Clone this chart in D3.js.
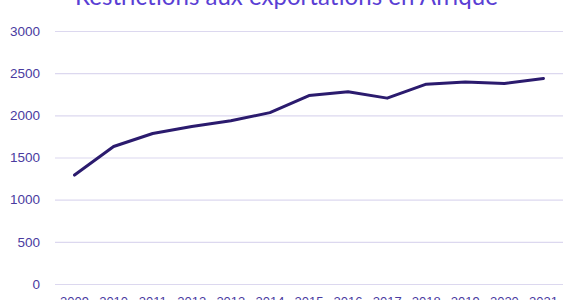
<!DOCTYPE html>
<html lang="fr">
<head>
	<meta charset="UTF-8" />
	<script src="https://d3js.org/d3.v7.min.js"></script>
	<style type="text/css">
		body { margin: 0; background: #ffffff; }
		svg { display: block; font-family: "Century Gothic", "URW Gothic", Lato, sans-serif; }
	</style>
	<title>Restrictions aux exportations en Afrique</title>
</head>
<body>
<script type="text/javascript">
	// Data
	var years = ["2009", "2010", "2011", "2012", "2013", "2014", "2015", "2016", "2017", "2018", "2019", "2020", "2021"];
	var restrictions = [1292, 1630, 1785, 1868, 1935, 2032, 2235, 2280, 2204, 2370, 2395, 2378, 2438];
	var yTicks = [0, 500, 1000, 1500, 2000, 2500, 3000];
	var title = "Restrictions aux exportations en Afrique";

	var W = 570, H = 300;
	var margin = {top: 31, right: 7, bottom: 16, left: 55},
	    w = W - margin.left - margin.right,
	    h = H - margin.top - margin.bottom;

	var svg = d3.select("body").append("svg")
	    .attr("width", W)
	    .attr("height", H);

	var g = svg.append("g")
	    .attr("transform", "translate(" + margin.left + "," + margin.top + ")");

	// Scales
	var xScale = d3.scaleBand()
	    .domain(years)
	    .range([0, w])
	    .padding(0);

	var yScale = d3.scaleLinear()
	    .domain([0, 3000])
	    .range([h, 0]);

	// Gridlines + y labels
	var yAxis = g.append("g")
	    .attr("class", "y_axis")
	    .call(d3.axisLeft(yScale).tickValues(yTicks).tickFormat(d3.format("d")).tickSize(-w).tickPadding(15));
	yAxis.select(".domain").remove();
	yAxis.selectAll(".tick line")
	    .attr("stroke", "#dcd8ef")
	    .attr("stroke-width", 1.2);
	yAxis.selectAll(".tick text")
	    .attr("fill", "#4a3b9f")
	    .attr("font-size", "13.5px");

	// x labels (cut off at the bottom, as in the original)
	var xAxis = g.append("g")
	    .attr("class", "x_axis")
	    .attr("transform", "translate(0," + h + ")")
	    .call(d3.axisBottom(xScale).tickSize(0).tickPadding(13));
	xAxis.select(".domain").remove();
	xAxis.selectAll(".tick text")
	    .attr("fill", "#4a3b9f")
	    .attr("font-size", "13px");

	// Line
	var line = d3.line()
	    .x(function(d, i) { return xScale(years[i]) + xScale.bandwidth() / 2; })
	    .y(function(d) { return yScale(d); });

	g.append("path")
	    .datum(restrictions)
	    .attr("d", line)
	    .attr("fill", "none")
	    .attr("stroke", "#2b1b6e")
	    .attr("stroke-width", 3)
	    .attr("stroke-linejoin", "round")
	    .attr("stroke-linecap", "round");

	// Title (partly cut off at the top)
	var t = svg.append("text")
	    .attr("x", 286.5)
	    .attr("y", 5)
	    .attr("text-anchor", "middle")
	    .attr("fill", "#5a3fd4")
	    .attr("font-size", "20px")
	    .text(title);
	var tw = t.node().getComputedTextLength();
	t.attr("font-size", (20 * 423 / tw) + "px");
</script>
</body>
</html>
